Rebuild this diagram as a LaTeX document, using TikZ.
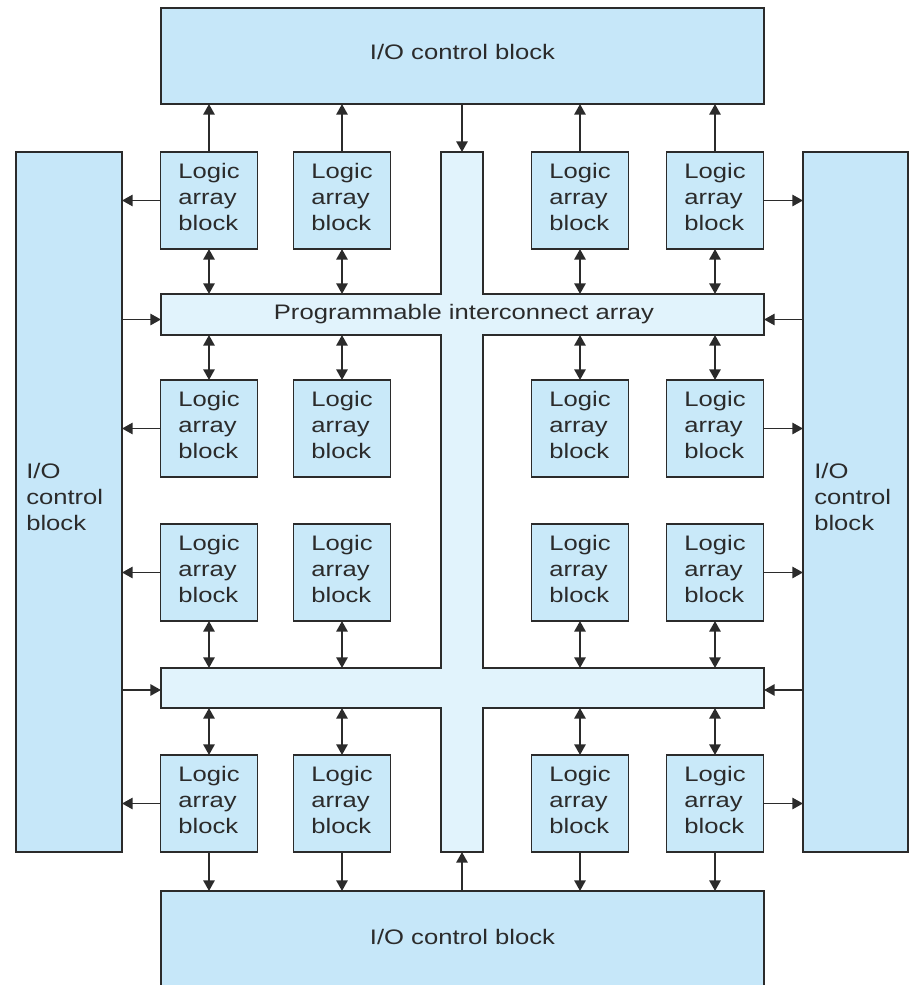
\documentclass[tikz,border=0pt]{standalone}
\usepackage{fontspec}
\newfontfamily\diafont[FakeStretch=1.22]{Liberation Sans}
\usetikzlibrary{arrows.meta,calc}
\definecolor{labfill}{HTML}{C9E9F9}
\definecolor{iofill}{HTML}{C6E7F9}
\definecolor{piafill}{HTML}{E1F3FC}
\definecolor{edge}{HTML}{2B2B2B}
\tikzset{
  txt/.style={font=\diafont\fontsize{15.75pt}{19.5pt}\selectfont, text=edge},
  labbox/.style={draw=edge, line width=1.3pt, fill=labfill, inner sep=0pt, outer sep=0pt,
    minimum width={97*0.75pt}, minimum height={97*0.75pt}},
  labtxt/.style={txt, align=left, yshift=3pt},
  iobox/.style={draw=edge, line width=1.3pt, fill=iofill, inner sep=0pt, outer sep=0pt, txt},
  bar/.style={inner sep=0pt, outer sep=0pt, txt},
  tip/.tip={Triangle[width=8.5pt,length=8pt]},
  arr/.style={draw=edge, line width=1.4pt, -tip},
  darr/.style={draw=edge, line width=1.4pt, tip-tip}
}
\begin{document}
\begin{tikzpicture}[x=0.75pt,y=-0.75pt]
\useasboundingbox (0,0) rectangle (910,985);
% I/O control blocks
\node[iobox, minimum width={603*0.75pt}, minimum height={96*0.75pt}] (top) at (462.5,56) {};
\node[txt] (toptxt) at (462.5,52) {I/O control block};
\node[iobox, minimum width={603*0.75pt}, minimum height={110*0.75pt}] (bot) at (462.5,946) {};
\node[txt] (bottxt) at (462.5,937) {I/O control block};
\node[iobox, minimum width={106*0.75pt}, minimum height={700*0.75pt}] (left) at (69,502) {};
\node[txt, anchor=west, align=left, inner sep=0pt] (lefttxt) at (26,497) {I/O\\control\\block};
\node[iobox, minimum width={105*0.75pt}, minimum height={700*0.75pt}] (right) at (855.5,502) {};
\node[txt, anchor=west, align=left, inner sep=0pt] (righttxt) at (814,497) {I/O\\control\\block};
% programmable interconnect array (cross)
\fill[piafill] (161,294) -- (441,294) -- (441,152) -- (483,152) -- (483,294) -- (764,294)
  -- (764,335) -- (483,335) -- (483,668) -- (764,668) -- (764,708) -- (483,708)
  -- (483,852) -- (441,852) -- (441,708) -- (161,708) -- (161,668) -- (441,668)
  -- (441,335) -- (161,335) -- cycle;
\draw[edge, line width=1.3pt, line join=miter] (161,294) -- (441,294) -- (441,152) -- (483,152) -- (483,294) -- (764,294)
  -- (764,335) -- (483,335) -- (483,668) -- (764,668) -- (764,708) -- (483,708)
  -- (483,852) -- (441,852) -- (441,708) -- (161,708) -- (161,668) -- (441,668)
  -- (441,335) -- (161,335) -- cycle;
\node[bar, minimum width={603*0.75pt}, minimum height={41*0.75pt}] (piaH1) at (462.5,314.5) {};
\node[txt] (piatxt) at (464,314) {Programmable interconnect array};
\node[bar, minimum width={603*0.75pt}, minimum height={40*0.75pt}] (piaH2) at (462.5,688) {};
\node[bar, minimum width={42*0.75pt}, minimum height={700*0.75pt}] (piaV) at (462,502) {};
% logic array blocks
\foreach \r/\y in {1/200.5,2/428.5,3/572.5,4/803.5}{
  \foreach \c/\x in {1/209,2/342,3/580,4/715}{
    \node[labbox] (L\r\c) at (\x,\y) {};
    \node[labtxt] (T\r\c) at (L\r\c.center) {Logic\\array\\block};
  }
}
% connectors
\foreach \c in {1,2,3,4}{
  \draw[arr] (L1\c.north) -- (L1\c.north |- top.south);
  \draw[darr] (L1\c.south) -- (L1\c.south |- piaH1.north);
  \draw[darr] (L2\c.north |- piaH1.south) -- (L2\c.north);
  \draw[darr] (L3\c.south) -- (L3\c.south |- piaH2.north);
  \draw[darr] (L4\c.north |- piaH2.south) -- (L4\c.north);
  \draw[arr] (L4\c.south) -- (L4\c.south |- bot.north);
}
\foreach \r in {1,2,3,4}{
  \draw[arr] (L\r1.west) -- (L\r1.west -| left.east);
  \draw[arr] (L\r4.east) -- (L\r4.east -| right.west);
}
\draw[arr] (piaV.north |- top.south) -- (piaV.north);
\draw[arr] (piaV.south |- bot.north) -- (piaV.south);
\coordinate (p1l) at ($(piaH1.west)+(0,5)$);
\coordinate (p1r) at ($(piaH1.east)+(0,5)$);
\coordinate (p2l) at ($(piaH2.west)+(0,2)$);
\coordinate (p2r) at ($(piaH2.east)+(0,2)$);
\draw[arr] (left.east |- p1l) -- (p1l);
\draw[arr] (left.east |- p2l) -- (p2l);
\draw[arr] (right.west |- p1r) -- (p1r);
\draw[arr] (right.west |- p2r) -- (p2r);
\end{tikzpicture}
\end{document}
